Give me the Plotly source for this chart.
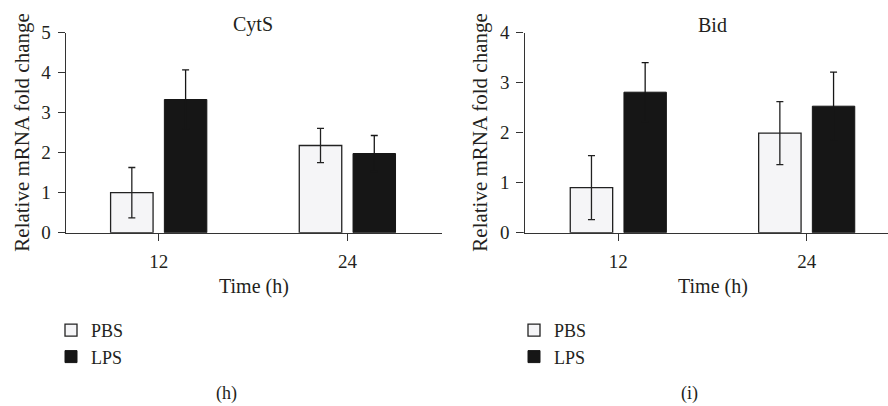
import plotly.graph_objects as go

W, H = 888, 406

# ---- data ----
times = ["12", "24"]
groups = ["PBS", "LPS"]

cyts_pbs = [1.00, 2.18]
cyts_pbs_err = [0.63, 0.43]
cyts_lps = [3.33, 1.98]
cyts_lps_err = [0.74, 0.45]

bid_pbs = [0.90, 1.99]
bid_pbs_err = [0.64, 0.63]
bid_lps = [2.81, 2.53]
bid_lps_err = [0.59, 0.68]

panel_titles = ["CytS", "Bid"]
panel_labels = ["(h)", "(i)"]
y_title = "Relative mRNA fold change"
x_title = "Time (h)"

# ---- style ----
FONT = "'Liberation Serif', 'Times New Roman', 'DejaVu Serif', serif"
TXT = "#231f20"
PBS_FILL = "#f5f5f7"
LPS_FILL = "#161616"
EDGE = "#222222"
AX = "#333333"


def px(x):
    return x / W


def py(y):
    return 1 - y / H


fig = go.Figure()


def add_panel(pbs, pbs_err, lps, lps_err, xa, ya, legend, errw=3.5):
    fig.add_trace(go.Bar(
        x=times, y=pbs, name=groups[0], xaxis=xa, yaxis=ya, legend=legend,
        marker=dict(color=PBS_FILL, line=dict(color=EDGE, width=1.3)),
        error_y=dict(type="data", array=pbs_err, visible=True, color=EDGE,
                     thickness=1.3, width=errw),
    ))
    fig.add_trace(go.Bar(
        x=times, y=lps, name=groups[1], xaxis=xa, yaxis=ya, legend=legend,
        marker=dict(color=LPS_FILL, line=dict(color=LPS_FILL, width=1)),
        error_y=dict(type="data", array=lps_err, visible=True, color=LPS_FILL,
                     thickness=1.3, width=errw),
    ))


add_panel(cyts_pbs, cyts_pbs_err, cyts_lps, cyts_lps_err, "x", "y", "legend")
add_panel(bid_pbs, bid_pbs_err, bid_lps, bid_lps_err, "x2", "y2", "legend2")

y0_px, ytop_px = 232.7, 32.7
ydom = [py(y0_px), py(ytop_px)]

axis_common = dict(
    showline=True, linecolor=AX, linewidth=1.3, ticks="outside", ticklen=7,
    tickwidth=1.3, tickcolor=AX, showgrid=False, zeroline=False,
    automargin=False,
    tickfont=dict(family=FONT, size=19, color=TXT),
)

legend_common = dict(
    xanchor="left", yanchor="top",
    font=dict(family=FONT, size=18, color=TXT),
    bgcolor="rgba(0,0,0,0)", tracegroupgap=0,
)

fig.update_layout(
    template="none",
    width=W, height=H, autosize=False,
    margin=dict(l=0, r=0, t=0, b=0, pad=0, autoexpand=False),
    paper_bgcolor="white", plot_bgcolor="white",
    barmode="group", bargap=0.43, bargroupgap=0.21,
    xaxis=dict(domain=[px(65.7), px(442.3)], range=[-0.493, 1.503],
               type="category", anchor="y", ticklabelstandoff=4, **axis_common),
    yaxis=dict(domain=ydom, range=[0, 5], dtick=1, anchor="x",
               ticklabelstandoff=3, **axis_common),
    xaxis2=dict(domain=[px(524.5), 1.0], range=[-0.498, 1.4315],
                type="category", anchor="y2", ticklabelstandoff=4, **axis_common),
    yaxis2=dict(domain=ydom, range=[0, 4], dtick=1, anchor="x2",
                ticklabelstandoff=3, **axis_common),
    legend=dict(x=px(51), y=py(312), **legend_common),
    legend2=dict(x=px(514), y=py(312), **legend_common),
    showlegend=True,
)

# x-axis line extension to the left of the y axis
for x0, x1, yref in [(58, 65.7, "y"), (516.7, 524.5, "y2")]:
    fig.add_shape(type="line", xref="paper", yref=yref, x0=px(x0), x1=px(x1),
                  y0=0, y1=0, line=dict(color=AX, width=1.3))

ann = []
title_font = dict(family=FONT, size=20, color=TXT)


def add_ann(text, cx, cy, font, angle=0, yanchor="middle"):
    ann.append(dict(text=text, x=px(cx), y=py(cy), xref="paper", yref="paper",
                    xanchor="center", yanchor=yanchor, showarrow=False,
                    textangle=angle, font=font))


for t, cx in zip(panel_titles, [253, 712]):
    add_ann(t, cx, 25, title_font)
for cx in [253.5, 713]:
    add_ann(x_title, cx, 286, title_font)
for cx in [22, 480]:
    add_ann(y_title, cx, 132.7, dict(family=FONT, size=21, color=TXT), angle=-90)
for t, cx in zip(panel_labels, [226, 689]):
    add_ann(t, cx, 406, dict(family=FONT, size=18, color=TXT), yanchor="bottom")
fig.update_layout(annotations=ann)

fig.write_html("out.html")
